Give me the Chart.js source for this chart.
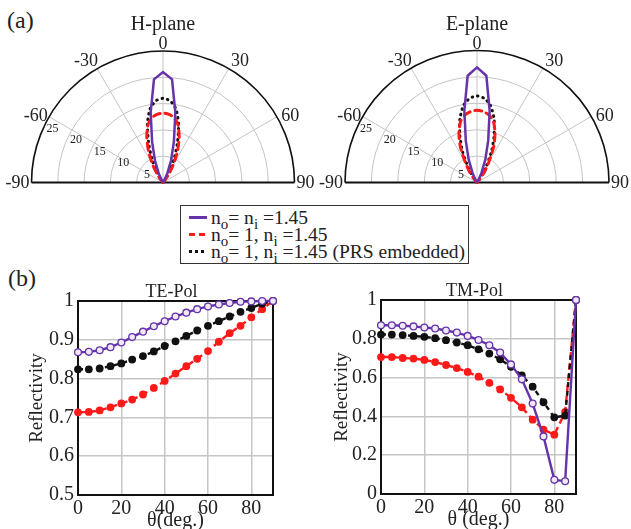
<!DOCTYPE html>
<html lang="en">
<head>
<meta charset="UTF-8">
<title>Radiation patterns and reflectivity</title>
<script src="https://cdn.jsdelivr.net/npm/chart.js"></script>
<style>
  body {
    margin: 0;
    width: 631px;
    height: 529px;
    overflow: hidden;
    position: relative;
    background: #fff;
    color: #222;
    font-family: 'Liberation Serif', 'Times New Roman', serif;
  }
  canvas { position: absolute; }
  .tag { position: absolute; font-size: 24px; line-height: 1; }
  #legend {
    position: absolute;
    left: 180px; top: 205px;
    width: 287px; height: 57px;
    border: 1.5px solid #333;
    font-size: 19.5px;
  }
  #legend .row {
    position: absolute;
    left: 8px;
    height: 18px;
    line-height: 18px;
    white-space: nowrap;
  }
  #legend sub { font-size: 15px; vertical-align: -5px; line-height: 0; }
  #legend .swatch {
    display: inline-block;
    width: 18px; height: 3px;
    margin-right: 4px;
    vertical-align: 5px;
  }
</style>
</head>
<body>

<div class="tag" style="left:7px; top:8px;">(a)</div>
<div class="tag" style="left:8px; top:266px;">(b)</div>

<canvas id="hplane" width="315" height="200" style="left:0; top:0;"></canvas>
<canvas id="eplane" width="316" height="200" style="left:315px; top:0;"></canvas>

<div id="legend">
  <div class="row" style="top:3px;"><span class="swatch" style="background:#6633aa;"></span>n<sub>o</sub>= n<sub>i</sub> =1.45</div>
  <div class="row" style="top:20px;"><span class="swatch" style="background:repeating-linear-gradient(90deg,#ff1a1a 0 6px,transparent 6px 10px);"></span>n<sub>o</sub>= 1, n<sub>i</sub> =1.45</div>
  <div class="row" style="top:37px;"><span class="swatch" style="background:repeating-linear-gradient(90deg,#111 0 3px,transparent 3px 6px);"></span>n<sub>o</sub>= 1, n<sub>i</sub> =1.45 (PRS embedded)</div>
</div>

<canvas id="tepol" width="315" height="270" style="left:0; top:261px;"></canvas>
<canvas id="tmpol" width="315" height="270" style="left:316px; top:260px;"></canvas>

<script>
  // ---- radiation patterns (gain vs angle) ----
  const polarAngles = [-45, -40, -35, -30, -25, -20, -15, -10, -5, 0, 5, 10, 15, 20, 25, 30, 35, 40, 45];
  const ringValues = [5, 10, 15, 20, 25];
  const spokeAngles = [-90, -60, -30, 0, 30, 60, 90];

  const hSame  = [0, 0, 0, 0.5, 2, 4.5, 8, 13.5, 19.7, 21.0, 19.7, 13.5, 8, 4.5, 2, 0.5, 0, 0, 0];
  const hAir   = [0, 0.5, 2, 4, 6.5, 9, 11.2, 12.5, 13.0, 13.2, 13.0, 12.5, 11.2, 9, 6.5, 4, 2, 0.5, 0];
  const hPrs   = [0, 0, 1, 2.5, 5, 8, 11.5, 14.2, 15.6, 16.0, 15.6, 14.2, 11.5, 8, 5, 2.5, 1, 0, 0];

  const eSame  = [0, 0, 0, 0.5, 2, 4.6, 8.2, 13.8, 20.3, 21.8, 20.3, 13.8, 8.2, 4.6, 2, 0.5, 0, 0, 0];
  const eAir   = [0, 0.8, 2.5, 4.5, 7.5, 10, 12.0, 13.0, 13.5, 13.7, 13.5, 13.0, 12.0, 10, 7.5, 4.5, 2.5, 0.8, 0];
  const ePrs   = [0, 0.3, 1.5, 3.5, 6.5, 9.5, 12.5, 14.8, 16.0, 16.4, 16.0, 14.8, 12.5, 9.5, 6.5, 3.5, 1.5, 0.3, 0];

  // ---- reflectivity vs incidence angle ----
  const incAngles = [0, 5, 10, 15, 20, 25, 30, 35, 40, 45, 50, 55, 60, 65, 70, 75, 80, 85, 90];

  const teSame = [0.868, 0.869, 0.873, 0.881, 0.893, 0.907, 0.921, 0.935, 0.948, 0.960, 0.970, 0.979, 0.986, 0.991, 0.995, 0.998, 0.999, 1.0, 1.0];
  const teAir  = [0.713, 0.714, 0.718, 0.726, 0.736, 0.746, 0.759, 0.776, 0.794, 0.813, 0.832, 0.851, 0.871, 0.895, 0.917, 0.936, 0.958, 0.979, 1.0];
  const tePrs  = [0.824, 0.824, 0.826, 0.832, 0.839, 0.849, 0.858, 0.870, 0.884, 0.896, 0.910, 0.924, 0.936, 0.948, 0.960, 0.972, 0.982, 0.993, 1.0];

  const tmSame = [0.870, 0.870, 0.867, 0.864, 0.858, 0.853, 0.843, 0.832, 0.815, 0.794, 0.767, 0.729, 0.668, 0.591, 0.466, 0.297, 0.073, 0.066, 1.0];
  const tmAir  = [0.706, 0.706, 0.701, 0.698, 0.691, 0.680, 0.665, 0.649, 0.629, 0.605, 0.573, 0.539, 0.496, 0.447, 0.383, 0.332, 0.306, 0.423, 1.0];
  const tmPrs  = [0.822, 0.822, 0.819, 0.815, 0.810, 0.803, 0.793, 0.781, 0.767, 0.746, 0.724, 0.694, 0.656, 0.611, 0.553, 0.473, 0.395, 0.404, 1.0];

  const xTicks = [0, 20, 40, 60, 80];
  const teTicks = [0.5, 0.6, 0.7, 0.8, 0.9, 1];
  const tmTicks = [0, 0.2, 0.4, 0.6, 0.8, 1];

  const SERIF = "'Liberation Serif', 'Times New Roman', serif";
  const PURPLE = '#6633aa', RED = '#ff1a1a', BLACK = '#111111';

  // half-circle grid, spokes and labels for the pattern plots
  const polarGrid = {
    id: 'polarGrid',
    beforeDatasetsDraw(chart, args, opts) {
      const ctx = chart.ctx;
      const xs = chart.scales.x, ys = chart.scales.y;
      const cx = xs.getPixelForValue(0), cy = ys.getPixelForValue(0);
      const k = xs.getPixelForValue(1) - cx;
      const R = ringValues[ringValues.length - 1] * k;
      const rad = a => a * Math.PI / 180;
      ctx.save();

      // inner rings
      ctx.strokeStyle = '#c4c4c4';
      ctx.lineWidth = 1;
      ringValues.slice(0, -1).forEach(v => {
        ctx.beginPath();
        ctx.arc(cx, cy, v * k, Math.PI, 2 * Math.PI);
        ctx.stroke();
      });
      // spokes
      spokeAngles.filter(a => Math.abs(a) < 90).forEach(a => {
        ctx.beginPath();
        ctx.moveTo(cx, cy);
        ctx.lineTo(cx + R * Math.sin(rad(a)), cy - R * Math.cos(rad(a)));
        ctx.stroke();
      });
      // outer arc and baseline
      ctx.strokeStyle = '#111';
      ctx.lineWidth = 1.6;
      ctx.beginPath();
      ctx.arc(cx, cy, R, Math.PI, 2 * Math.PI);
      ctx.stroke();
      ctx.lineWidth = 2;
      ctx.beginPath();
      ctx.moveTo(cx - R, cy);
      ctx.lineTo(cx + R, cy);
      ctx.stroke();

      // angle labels
      ctx.fillStyle = '#222';
      ctx.font = '18px ' + SERIF;
      spokeAngles.forEach(a => {
        const s = Math.sign(a);
        if (a === 0) {
          ctx.textAlign = 'center';
          ctx.textBaseline = 'alphabetic';
          ctx.fillText('0', cx, cy - R - 2);
        } else if (Math.abs(a) === 90) {
          ctx.textAlign = s < 0 ? 'right' : 'left';
          ctx.textBaseline = 'middle';
          ctx.fillText(String(a), cx + s * (R + 2), cy + 1);
        } else {
          const t = rad(a + s * 2.5);
          ctx.textAlign = 'center';
          ctx.textBaseline = 'middle';
          ctx.fillText(String(a), cx + (R + 12) * Math.sin(t), cy - (R + 12) * Math.cos(t));
        }
      });

      // ring value labels
      ctx.font = '12px ' + SERIF;
      ctx.textAlign = 'center';
      ctx.textBaseline = 'middle';
      const t = rad(-64);
      ringValues.forEach(v => {
        const r = v * k - 8.5;
        ctx.fillText(String(v), cx + r * Math.sin(t), cy - r * Math.cos(t));
      });

      // plot title
      ctx.font = '20px ' + SERIF;
      ctx.textBaseline = 'alphabetic';
      ctx.fillText(opts.title, cx, 30);
      ctx.restore();
    }
  };

  function patternSet(values, color, width, dash, tension) {
    return {
      data: polarAngles.map((a, i) => ({
        x: values[i] * Math.sin(a * Math.PI / 180),
        y: values[i] * Math.cos(a * Math.PI / 180)
      })),
      showLine: true,
      borderColor: color,
      borderWidth: width,
      borderDash: dash,
      borderCapStyle: dash.length ? 'round' : 'butt',
      pointRadius: 0,
      tension: tension,
      clip: false
    };
  }

  function patternChart(id, title, same, air, prs, pad) {
    new Chart(document.getElementById(id), {
      type: 'scatter',
      data: {
        datasets: [
          patternSet(same, PURPLE, 2.5, [], 0),
          patternSet(air, RED, 3, [7, 5], 0.2),
          patternSet(prs, BLACK, 3, [0.5, 5], 0.2)
        ]
      },
      options: {
        responsive: false,
        animation: false,
        events: [],
        layout: { padding: pad },
        scales: {
          x: { type: 'linear', min: -25, max: 25, display: false },
          y: { type: 'linear', min: 0, max: 25, display: false }
        },
        plugins: {
          legend: { display: false },
          tooltip: { enabled: false },
          polarGrid: { title: title }
        }
      },
      plugins: [polarGrid]
    });
  }

  patternChart('hplane', 'H-plane', hSame, hAir, hPrs, { left: 31.5, right: 20.5, top: 51, bottom: 17.5 });
  patternChart('eplane', 'E-plane', eSame, eAir, ePrs, { left: 30, right: 22, top: 50.5, bottom: 17.5 });

  // frame and title for the reflectivity plots
  const boxFrame = {
    id: 'boxFrame',
    beforeDatasetsDraw(chart, args, opts) {
      const { ctx, chartArea: a } = chart;
      ctx.save();
      ctx.strokeStyle = '#111';
      ctx.lineWidth = 2;
      ctx.strokeRect(a.left, a.top, a.right - a.left, a.bottom - a.top);
      ctx.fillStyle = '#222';
      ctx.font = '18px ' + SERIF;
      ctx.textAlign = 'center';
      ctx.textBaseline = 'alphabetic';
      ctx.fillText(opts.title, (a.left + a.right) / 2 - 4, a.top - 4);
      ctx.restore();
    }
  };

  function reflSet(values, color, hollow, dash) {
    return {
      data: incAngles.map((a, i) => ({ x: a, y: values[i] })),
      showLine: true,
      borderColor: color,
      borderWidth: 2.4,
      borderDash: dash,
      pointRadius: hollow ? 3.4 : 3.9,
      pointBorderWidth: hollow ? 1.3 : 0,
      pointBackgroundColor: hollow ? '#efe8f7' : color,
      pointBorderColor: color,
      tension: 0,
      clip: false
    };
  }

  function reflChart(id, title, same, air, prs, yTicks, xTitle, g) {
    const tickFont = { family: SERIF, size: 20 };
    new Chart(document.getElementById(id), {
      type: 'scatter',
      data: {
        datasets: [
          reflSet(same, PURPLE, true, []),
          reflSet(prs, BLACK, false, [5, 4]),
          reflSet(air, RED, false, [7, 4])
        ]
      },
      options: {
        responsive: false,
        animation: false,
        events: [],
        layout: { padding: { left: 0, top: g.top, right: g.right, bottom: 0 } },
        scales: {
          x: {
            type: 'linear', min: 0, max: 90,
            afterBuildTicks: s => { s.ticks = xTicks.map(v => ({ value: v })); },
            afterFit: s => { s.height = g.xh; },
            grid: { color: '#c6c6c6', lineWidth: 1.5, drawTicks: false },
            border: { display: false },
            ticks: { font: tickFont, color: '#222', padding: 2, maxRotation: 0 },
            title: { display: true, text: xTitle, color: '#222', font: { family: SERIF, size: 20, lineHeight: 1 }, padding: { top: 0, bottom: 0 } }
          },
          y: {
            type: 'linear', min: yTicks[0], max: yTicks[yTicks.length - 1],
            afterBuildTicks: s => { s.ticks = yTicks.map(v => ({ value: v })); },
            afterFit: s => { s.width = g.yw; },
            grid: { color: '#c6c6c6', lineWidth: 1.5, drawTicks: false },
            border: { display: false },
            ticks: { font: tickFont, color: '#222', padding: 4, callback: v => String(+v.toFixed(1)) },
            title: { display: true, text: 'Reflectivity', color: '#222', font: { family: SERIF, size: 19, lineHeight: 1 }, padding: { top: g.ytp, bottom: 0 } }
          }
        },
        plugins: {
          legend: { display: false },
          tooltip: { enabled: false },
          boxFrame: { title: title }
        }
      },
      plugins: [boxFrame]
    });
  }

  reflChart('tepol', 'TE-Pol', teSame, teAir, tePrs, teTicks, '\u03b8(deg.)', { top: 40, right: 42, xh: 36, yw: 78, ytp: 28 });
  reflChart('tmpol', 'TM-Pol', tmSame, tmAir, tmPrs, tmTicks, '\u03b8 (deg.)', { top: 40, right: 55, xh: 36, yw: 65, ytp: 17 });
</script>
</body>
</html>
